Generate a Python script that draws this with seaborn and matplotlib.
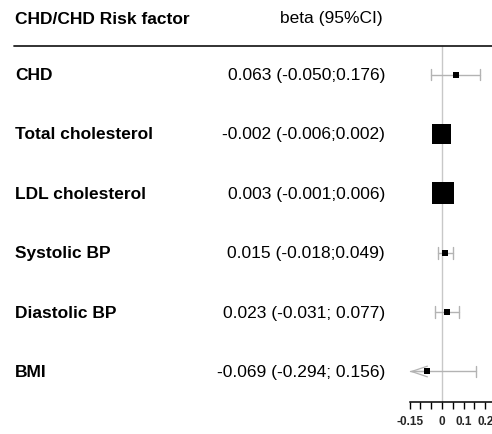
import numpy as np
import pandas as pd
import matplotlib
matplotlib.use("Agg")
import matplotlib.pyplot as plt
import matplotlib.transforms as mtransforms
from matplotlib.lines import Line2D
import seaborn as sns

# ---- data -------------------------------------------------------------
factors = ["CHD", "Total cholesterol", "LDL cholesterol",
           "Systolic BP", "Diastolic BP", "BMI"]
beta = [0.063, -0.002, 0.003, 0.015, 0.023, -0.069]
ci_low = [-0.050, -0.006, -0.001, -0.018, -0.031, -0.294]
ci_high = [0.176, 0.002, 0.006, 0.049, 0.077, 0.156]
ci_text = ["0.063 (-0.050;0.176)", "-0.002 (-0.006;0.002)",
           "0.003 (-0.001;0.006)", "0.015 (-0.018;0.049)",
           "0.023 (-0.031; 0.077)", "-0.069 (-0.294; 0.156)"]
header_left = "CHD/CHD Risk factor"
header_right = "beta (95%CI)"
tick_values = [-0.15, -0.10, -0.05, 0.0, 0.05, 0.10, 0.15, 0.20]
tick_labels = ["-0.15", "", "", "0", "", "0.1", "", "0.2"]

df = pd.DataFrame({"factor": factors, "beta": beta,
                   "lo": ci_low, "hi": ci_high, "text": ci_text})
df["row"] = np.arange(len(df))
# box side grows with precision (inverse CI width), with a floor
width = df["hi"] - df["lo"]
side_px = np.maximum(22 * width.min() / width, 6.0)
df["area"] = (side_px * 0.72) ** 2

# ---- figure -----------------------------------------------------------
sns.set_theme(style="white")
plt.rcParams["font.family"] = ["Liberation Sans", "DejaVu Sans"]

W, H = 492, 435
fig = plt.figure(figsize=(W / 100, H / 100), dpi=100)

px0, px_per_unit = 442.0, 216.0          # x=0 location and scale
ax_left, ax_right = 400.0, 492.0
ax_top, ax_bot = 46.5, 402.5
row0, row_step = 75.5, 59.4

ax = fig.add_axes([ax_left / W, 1 - ax_bot / H,
                   (ax_right - ax_left) / W, (ax_bot - ax_top) / H])
ax.set_xlim((ax_left - px0) / px_per_unit, (ax_right - px0) / px_per_unit)
ax.set_ylim((ax_bot - row0) / row_step, (ax_top - row0) / row_step)
ax.set_facecolor("none")

gray = "#b3b3b3"
ax.axvline(0, color="#c8c8c8", lw=1.0, zorder=1)

xmin_vis = -0.15
cap = 0.1
for _, r in df.iterrows():
    lo = max(r["lo"], xmin_vis)
    ax.plot([lo, r["hi"]], [r["row"], r["row"]], color=gray, lw=1.0, zorder=2)
    ax.plot([r["hi"], r["hi"]], [r["row"] - cap, r["row"] + cap],
            color=gray, lw=1.0, zorder=2)
    if r["lo"] < xmin_vis:
        ax.annotate("", xy=(xmin_vis, r["row"]), xytext=(r["beta"], r["row"]),
                    arrowprops=dict(arrowstyle="->,head_length=0.95,head_width=0.32",
                                    color=gray, lw=0.9, shrinkA=0, shrinkB=0),
                    zorder=2)
    else:
        ax.plot([lo, lo], [r["row"] - cap, r["row"] + cap],
                color=gray, lw=1.0, zorder=2)

sns.scatterplot(data=df, x="beta", y="row", marker="s", color="black",
                s=df["area"].values, edgecolor="none", linewidth=0,
                legend=False, ax=ax, zorder=3)

ax.set_xlabel("")
ax.set_ylabel("")
ax.set_yticks([])
for s in ["top", "right", "left"]:
    ax.spines[s].set_visible(False)
ax.spines["bottom"].set_color("black")
ax.spines["bottom"].set_linewidth(1.1)
ax.spines["bottom"].set_bounds(-0.15, (ax_right - px0) / px_per_unit)
ax.set_xticks(tick_values)
ax.set_xticklabels(tick_labels, fontsize=8.5, fontweight="bold")
ax.tick_params(axis="x", direction="out", length=5, width=1.0,
               color="black", pad=4.5, bottom=True)

# ---- text columns -----------------------------------------------------
trans = mtransforms.blended_transform_factory(fig.transFigure, ax.transData)
for _, r in df.iterrows():
    ax.text(15 / W, r["row"], r["factor"], transform=trans, ha="left",
            va="center", fontsize=12.5, fontweight="bold", color="black")
    ax.text(385 / W, r["row"], r["text"], transform=trans, ha="right",
            va="center", fontsize=12.5, color="black")

fig.text(15 / W, 1 - 19 / H, header_left, ha="left", va="center",
         fontsize=12.5, fontweight="bold", color="black")
fig.text(383 / W, 1 - 19 / H, header_right, ha="right", va="center",
         fontsize=12.5, color="black")
fig.add_artist(Line2D([14 / W, 1.0], [1 - 46.5 / H, 1 - 46.5 / H],
                      transform=fig.transFigure, color="#222222", lw=1.3))

fig.savefig("out.png", dpi=100)
